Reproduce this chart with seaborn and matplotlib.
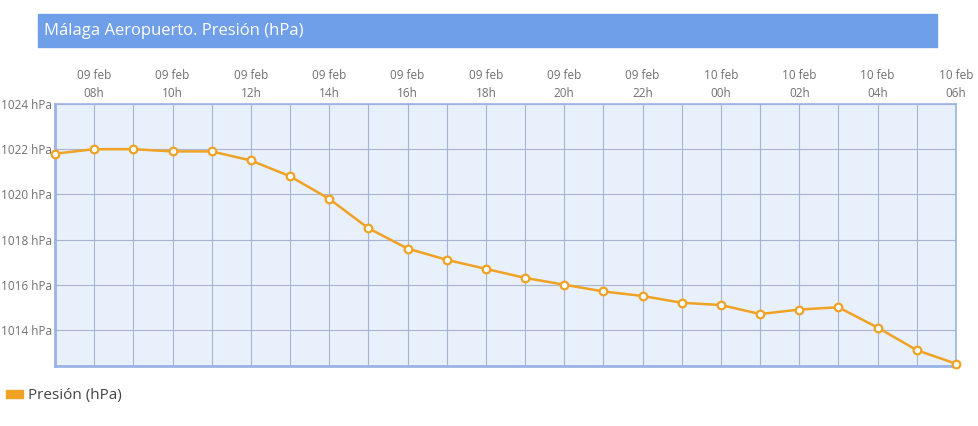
import pandas as pd
import matplotlib.pyplot as plt
import matplotlib.patches as mpatches
import seaborn as sns

# Datos: presión horaria en Málaga Aeropuerto (09 feb 07h -> 10 feb 06h)
horas = ["07h", "08h", "09h", "10h", "11h", "12h", "13h", "14h", "15h", "16h", "17h", "18h",
         "19h", "20h", "21h", "22h", "23h", "00h", "01h", "02h", "03h", "04h", "05h", "06h"]
dias = ["09 feb"] * 17 + ["10 feb"] * 7
presion = [1021.8, 1022.0, 1022.0, 1021.9, 1021.9, 1021.5, 1020.8, 1019.8, 1018.5, 1017.6,
           1017.1, 1016.7, 1016.3, 1016.0, 1015.7, 1015.5, 1015.2, 1015.1, 1014.7, 1014.9,
           1015.0, 1014.1, 1013.1, 1012.5]
y_ticks = [1014, 1016, 1018, 1020, 1022, 1024]

df = pd.DataFrame({"idx": range(len(horas)), "hora": horas, "dia": dias, "presion": presion})

sns.set_style("white")
plt.rcParams["font.family"] = ["Open Sans", "DejaVu Sans"]

fig = plt.figure(figsize=(9.79, 4.26), dpi=100)
ax = fig.add_axes([55 / 979, 1 - 366 / 426, 901 / 979, 262 / 426])

naranja = "#f0a225"
sns.lineplot(data=df, x="idx", y="presion", ax=ax, color=naranja, linewidth=1.8,
             marker="o", markersize=5.5, markerfacecolor="white",
             markeredgecolor=naranja, markeredgewidth=1.6, zorder=3, clip_on=False)

ax.set_facecolor("#e8f0fb")
ax.set_xlim(0, len(horas) - 1)
ax.set_ylim(1012.4, 1024)

# ticks arriba: todas las horas para la rejilla, etiqueta cada 2 h
ax.xaxis.tick_top()
ax.set_xticks(df["idx"])
etiquetas = [f"{d}\n{h}" if i % 2 == 1 else "" for i, (d, h) in enumerate(zip(dias, horas))]
ax.set_xticklabels(etiquetas, fontsize=8.5, color="#707070", linespacing=1.5)
ax.set_yticks(y_ticks)
ax.set_yticklabels([f"{v} hPa" for v in y_ticks], fontsize=8.5, color="#707070")
ax.tick_params(axis="both", length=0, pad=3)
ax.tick_params(axis="y", pad=2)
ax.grid(True, color="#a9b5cf", linewidth=0.8)
ax.set_xlabel("")
ax.set_ylabel("")

for lado, sp in ax.spines.items():
    sp.set_visible(True)
    sp.set_color("#9ab3e6")
    sp.set_linewidth(1.2)
ax.spines["left"].set_linewidth(2)
ax.spines["bottom"].set_linewidth(2)

# barra de título
fig.patches.append(mpatches.Rectangle((38 / 979, 1 - 47 / 426), 899 / 979, 33 / 426,
                                      transform=fig.transFigure, color="#6f9fe8", zorder=0))
fig.text(44 / 979, 1 - 31 / 426, "Málaga Aeropuerto. Presión (hPa)", color="white",
         fontsize=12, va="center", ha="left")

# leyenda
handle = mpatches.Patch(color=naranja, label="Presión (hPa)")
fig.legend(handles=[handle], loc="center left", bbox_to_anchor=(0, 1 - 396 / 426),
           frameon=False, fontsize=11, handlelength=1.1, handleheight=0.45,
           handletextpad=0.3, borderaxespad=0, borderpad=0.4, labelcolor="#444444")

fig.savefig("out.png", dpi=100)
